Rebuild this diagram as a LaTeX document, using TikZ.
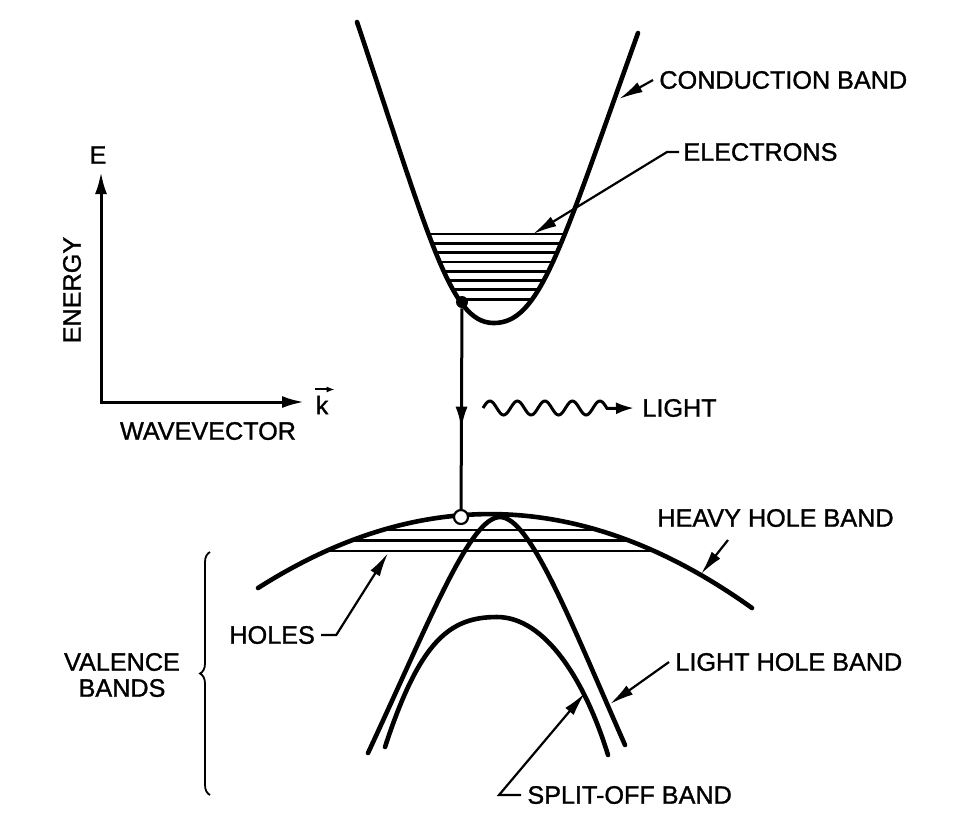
\documentclass[tikz,border=0pt]{standalone}
\usepackage{fontspec}
\setmainfont{Liberation Sans}[FakeBold=1.2]
\usetikzlibrary{arrows.meta, decorations.pathreplacing, decorations.markings, positioning}

\begin{document}
\begin{tikzpicture}[x=0.5pt, y=-0.5pt, font=\fontsize{12.6}{13}\selectfont,
    band/.style={line width=2.3pt, line cap=round},
    fillline/.style={line width=1.4pt},
    leader/.style={line width=1.1pt, -{Latex[length=12pt, width=5.5pt]}},
    lbl/.style={inner sep=0pt}]

    \useasboundingbox (0,0) rectangle (972,827);

    % axes
    \coordinate (etop) at (101,172);
    \coordinate (origin) at (101,402);
    \coordinate (kend) at (304,402);
    \draw[line width=1.5pt, {Latex[length=11pt, width=6pt]}-{Latex[length=11pt, width=6pt]}] (etop) -- (origin) -- (kend);
    \node[lbl] (E) at (98,155) {E};
    \node[lbl, rotate=90] (energy) at (72,290) {ENERGY};
    \node[lbl] (wavevec) at (208,431) {WAVEVECTOR};
    \node[lbl] (k) at (322,405) {k};
    \draw[line width=1pt, -{Latex[length=4pt, width=3pt]}] ([yshift=3pt]k.north west) -- ([xshift=3pt, yshift=3pt]k.north east);

    % electrons in the conduction band
    \begin{scope}
        \clip (357,22) .. controls (430,240) and (450,322) .. (493,323)
              .. controls (540,324) and (560,250) .. (638,33) -- cycle;
        \foreach \y in {234,243.3,...,300}
            \draw[fillline] (380,\y) -- (620,\y);
    \end{scope}
    \draw[band] (357,22) .. controls (430,240) and (450,322) .. (493,323)
          .. controls (540,324) and (560,250) .. (638,33);

    % holes in the heavy hole band
    \begin{scope}
        \clip (258,588) .. controls (423,483) and (587,490) .. (752,608) -- cycle;
        \foreach \y in {530,540.5,551}
            \draw[fillline] (250,\y) -- (760,\y);
    \end{scope}
    \draw[band] (258,588) .. controls (423,483) and (587,490) .. (752,608);

    % light hole band
    \draw[band] (368,753) .. controls (430,620) and (470,517) .. (500,517)
          .. controls (530,517) and (570,620) .. (625,745);

    % split-off band
    \draw[band] (385,747) .. controls (420,640) and (450,617) .. (497,617)
          .. controls (545,617) and (585,680) .. (608,755);

    % transition
    \node[circle, fill, inner sep=0pt, minimum size=6pt] (elec) at (462,302) {};
    \node[circle, draw, fill=white, line width=1.1pt, inner sep=0pt, minimum size=7pt] (hole) at (461,517) {};
    \draw[line width=1.5pt, postaction={decorate},
          decoration={markings, mark=at position 0.6 with {\arrow{Latex[length=11pt, width=6pt]}}}]
          (elec) -- (hole);

    % light
    \node[lbl, anchor=west] (light) at (642,408) {LIGHT};
    \draw[line width=1.5pt, -{Latex[length=9pt, width=6pt]}]
          plot[domain=483:607, samples=80, smooth] (\x, {408-7*sin(13.09*(\x-483))}) -- ([xshift=-4pt]light.west);

    % labels
    \node[lbl, anchor=west] (cond) at (659,80) {CONDUCTION BAND};
    \coordinate (cbtip) at (619,99);
    \draw[leader] ([xshift=-3pt]cond.west) -- (cbtip);

    \node[lbl, anchor=west] (electrons) at (683,152) {ELECTRONS};
    \coordinate (eltip) at (533,234);
    \draw[leader] ([xshift=-2pt]electrons.west) -- ++(-12,0) -- (eltip);

    \node[lbl, anchor=west] (heavy) at (657,518) {HEAVY HOLE BAND};
    \coordinate (hhfoot) at (728,540);
    \coordinate (hhtip) at (701,574);
    \draw[leader] (hhfoot) -- (hhtip);

    \node[lbl, anchor=west] (holes) at (229,635) {HOLES};
    \coordinate (hotip) at (388,553);
    \draw[leader] ([xshift=3pt]holes.east) -- ++(15,0) -- (hotip);

    \node[lbl, align=center] (valence) at (122,675) {VALENCE\\BANDS};
    \draw[line width=0.9pt, decorate, decoration={brace, amplitude=5pt}] (210,795) -- (210,552);

    \node[lbl, anchor=west] (lhb) at (675,662) {LIGHT HOLE BAND};
    \coordinate (lhtip) at (610,704);
    \draw[leader] ([xshift=-3pt]lhb.west) -- (lhtip);

    \node[lbl, anchor=west] (split) at (527,795) {SPLIT-OFF BAND};
    \coordinate (sotip) at (585,693);
    \draw[leader] ([xshift=-3pt]split.west) -- ++(-22,0) -- (sotip);
\end{tikzpicture}
\end{document}
